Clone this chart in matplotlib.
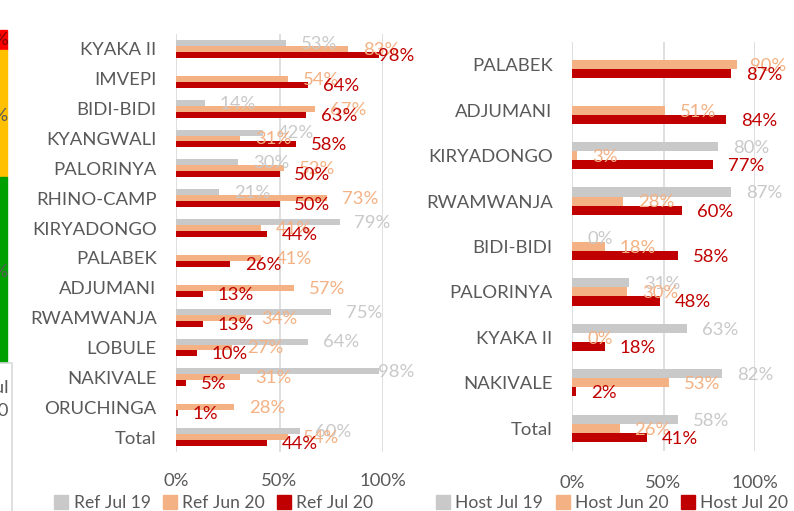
import matplotlib
matplotlib.use('Agg')
import matplotlib.pyplot as plt
from matplotlib.patches import Patch, Rectangle
from matplotlib.lines import Line2D
import numpy as np

nan = np.nan

# ── Data ─────────────────────────────────────────────────────────────────────
ref_sites  = ['KYAKA II', 'IMVEPI', 'BIDI-BIDI', 'KYANGWALI', 'PALORINYA', 'RHINO-CAMP',
              'KIRYADONGO', 'PALABEK', 'ADJUMANI', 'RWAMWANJA', 'LOBULE', 'NAKIVALE',
              'ORUCHINGA', 'Total']
ref_jul19  = [53, nan, 14, 42, 30, 21, 79, nan, nan, 75, 64, 98, nan, 60]
ref_jun20  = [83, 54, 67, 31, 52, 73, 41, 41, 57, 34, 27, 31, 28, 54]
ref_jul20  = [98, 64, 63, 58, 50, 50, 44, 26, 13, 13, 10, 5, 1, 44]
ref_names  = ['Ref Jul 19', 'Ref Jun 20', 'Ref Jul 20']

host_sites = ['PALABEK', 'ADJUMANI', 'KIRYADONGO', 'RWAMWANJA', 'BIDI-BIDI',
              'PALORINYA', 'KYAKA II', 'NAKIVALE', 'Total']
host_jul19 = [nan, nan, 80, 87, 0, 31, 63, 82, 58]
host_jun20 = [90, 51, 3, 28, 18, 30, 0, 53, 26]
host_jul20 = [87, 84, 77, 60, 58, 48, 18, 2, 41]
host_names = ['Host Jul 19', 'Host Jun 20', 'Host Jul 20']

colors = ['#C9C9C9', '#F4B183', '#C00000']
TXT = '#595959'
GRID = '#D9D9D9'
FS = 13.3

plt.rcParams['font.family'] = ['Lato', 'DejaVu Sans']

W, H = 794, 511
fig = plt.figure(figsize=(W / 100, H / 100), dpi=100)


def px_axes(l, t, r, b):
    return fig.add_axes([l / W, 1 - b / H, (r - l) / W, (b - t) / H])


def draw_panel(ax, sites, series, bar_h, gap, clamp, pad):
    y = np.arange(len(sites))
    for k, (vals, col) in enumerate(zip(series, colors)):
        yy = y + (k - 1) * bar_h
        ax.barh(yy, vals, height=bar_h, color=col, zorder=2)
        for yi, v in zip(yy, vals):
            if np.isnan(v):
                continue
            ax.text(min(v + gap, clamp), yi + 0.03, f'{v:.0f}%', color=col, fontsize=FS,
                    va='center', ha='left', zorder=3, clip_on=False)
    ax.set_xlim(0, 100)
    ax.set_ylim(len(sites) - 0.5, -0.5)
    ax.set_yticks(y, sites)
    ax.set_xticks([0, 50, 100], ['0%', '50%', '100%'])
    ax.tick_params(axis='y', length=0, pad=14, labelsize=FS, labelcolor=TXT)
    ax.tick_params(axis='x', length=0, pad=pad, labelsize=FS, labelcolor=TXT)
    ax.grid(axis='x', color=GRID, linewidth=1.2, zorder=0)
    for s in ax.spines.values():
        s.set_visible(False)


ax1 = px_axes(176, 34, 383, 452)
draw_panel(ax1, ref_sites, [ref_jul19, ref_jun20, ref_jul20], 0.2, 7.2, 97.5, 15)

ax2 = px_axes(572, 42, 755, 451)
draw_panel(ax2, host_sites, [host_jul19, host_jun20, host_jul20], 0.2, 8.2, 97, 17)

for names, cx in [(ref_names, 214), (host_names, 612)]:
    handles = [Patch(color=c) for c in colors]
    fig.legend(handles, names, loc='center', bbox_to_anchor=(cx / W, 8 / H), ncol=3,
               frameon=False, fontsize=12.6, labelcolor=TXT, handlelength=0.8,
               handleheight=0.8, handletextpad=0.3, columnspacing=0.7, borderpad=0)

# fragment of the neighbouring panel on the left edge
for top, bot, col in [(30, 50, '#FF0000'), (50, 177, '#FFC000'), (177, 362, '#00A000')]:
    fig.patches.append(Rectangle((0, 1 - bot / H), 7 / W, (bot - top) / H,
                                 transform=fig.transFigure, color=col))
fig.lines.append(Line2D([0, 12 / W, 12 / W], [1 - 363 / H, 1 - 363 / H, 0],
                        transform=fig.transFigure, color=GRID, linewidth=1.2))
for txt, yy, col in [('100%', 40, '#7F0000'), ('50%', 116, TXT), ('25%', 272, TXT),
                     ('Jul', 388, TXT), ('20', 411, TXT)]:
    fig.text(9 / W, 1 - yy / H, txt, ha='right', va='center', fontsize=FS, color=col)

fig.savefig('out.png', dpi=100)
